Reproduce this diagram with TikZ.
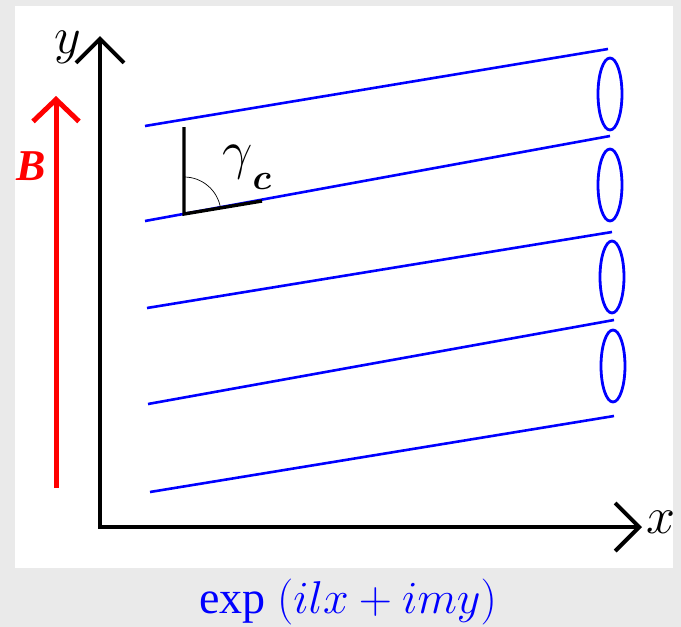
\RequirePackage{fix-cm}
\documentclass[tikz,border=0pt]{standalone}
\usepackage{fontspec}
\setmainfont{Liberation Serif}
\usetikzlibrary{shapes.geometric, arrows.meta}
\definecolor{panelgray}{HTML}{EAEAEA}
\definecolor{waveblue}{HTML}{0000FF}
\definecolor{fieldred}{HTML}{FF0000}

\begin{document}
\begin{tikzpicture}[
  x=1pt, y=-1pt,
  axis/.style={
    {Straight Barb[length=24pt, width=48pt]}-{Straight Barb[length=24pt, width=48pt]},
    line width=4pt, draw=black
  },
  field/.style={-{Straight Barb[length=22pt, width=46pt]}, line width=5pt, draw=fieldred},
  wave/.style={draw=waveblue, line width=2.6pt},
  ring/.style={
    draw=waveblue, ellipse, line width=2.8pt, inner sep=0pt,
    minimum width=24pt, minimum height=72pt
  },
  leg/.style={draw=black, line width=3.4pt},
  angmark/.style={draw=black, line width=0.7pt},
  axlabel/.style={font=\fontsize{52}{60}\selectfont, inner sep=0pt},
  caption/.style={font=\fontsize{46}{54}\selectfont, text=waveblue, inner sep=0pt},
]

\useasboundingbox (0,0) rectangle (681,627);
\fill[panelgray] (0,0) rectangle (681,627);
\fill[white] (15,6) rectangle (673,568);

\coordinate (origin) at (100,527);
\coordinate (ytip) at (100,36);
\coordinate (xtip) at (642,527);
\coordinate (bfoot) at (56,488);
\coordinate (btip) at (56,96);

\draw[axis] (ytip) -- (origin) -- (xtip);
\draw[field] (bfoot) -- (btip);

\node[axlabel, anchor=base] (ylab) at (68,53) {$y$};
\node[axlabel, anchor=base] (xlab) at (661,533) {$x$};
\node[font=\fontsize{44}{52}\selectfont\bfseries\itshape, text=fieldred, inner sep=0pt, anchor=base] (blab) at (31,180) {B};

\draw[wave] (145,126) -- (608,49);
\draw[wave] (145,221) -- (610,136);
\draw[wave] (147,308) -- (612,232);
\draw[wave] (148,404) -- (614,320);
\draw[wave] (150,492) -- (614,416);

\node[ring] (ring1) at (610,94) {};
\node[ring] (ring2) at (610,185) {};
\node[ring] (ring3) at (612,277) {};
\node[ring] (ring4) at (613,366) {};

\coordinate (legtop) at (184,127);
\coordinate (corner) at (184,214);
\coordinate (legfoot) at (262,201);
\coordinate (arcstart) at (184,177);

\draw[leg] (legtop) -- (corner) -- (legfoot);
\draw[angmark] (arcstart) arc[start angle=-90, end angle=-9, radius=37];

\node[font=\fontsize{54}{62}\selectfont, inner sep=0pt, anchor=base west] (gamma) at (222,168)
  {$\gamma$\raisebox{-21pt}{\fontsize{36}{42}\selectfont\boldmath$c$}};

\node[caption, anchor=base] (wavelab) at (348,613) {exp $(ilx + imy)$};

\end{tikzpicture}
\end{document}
